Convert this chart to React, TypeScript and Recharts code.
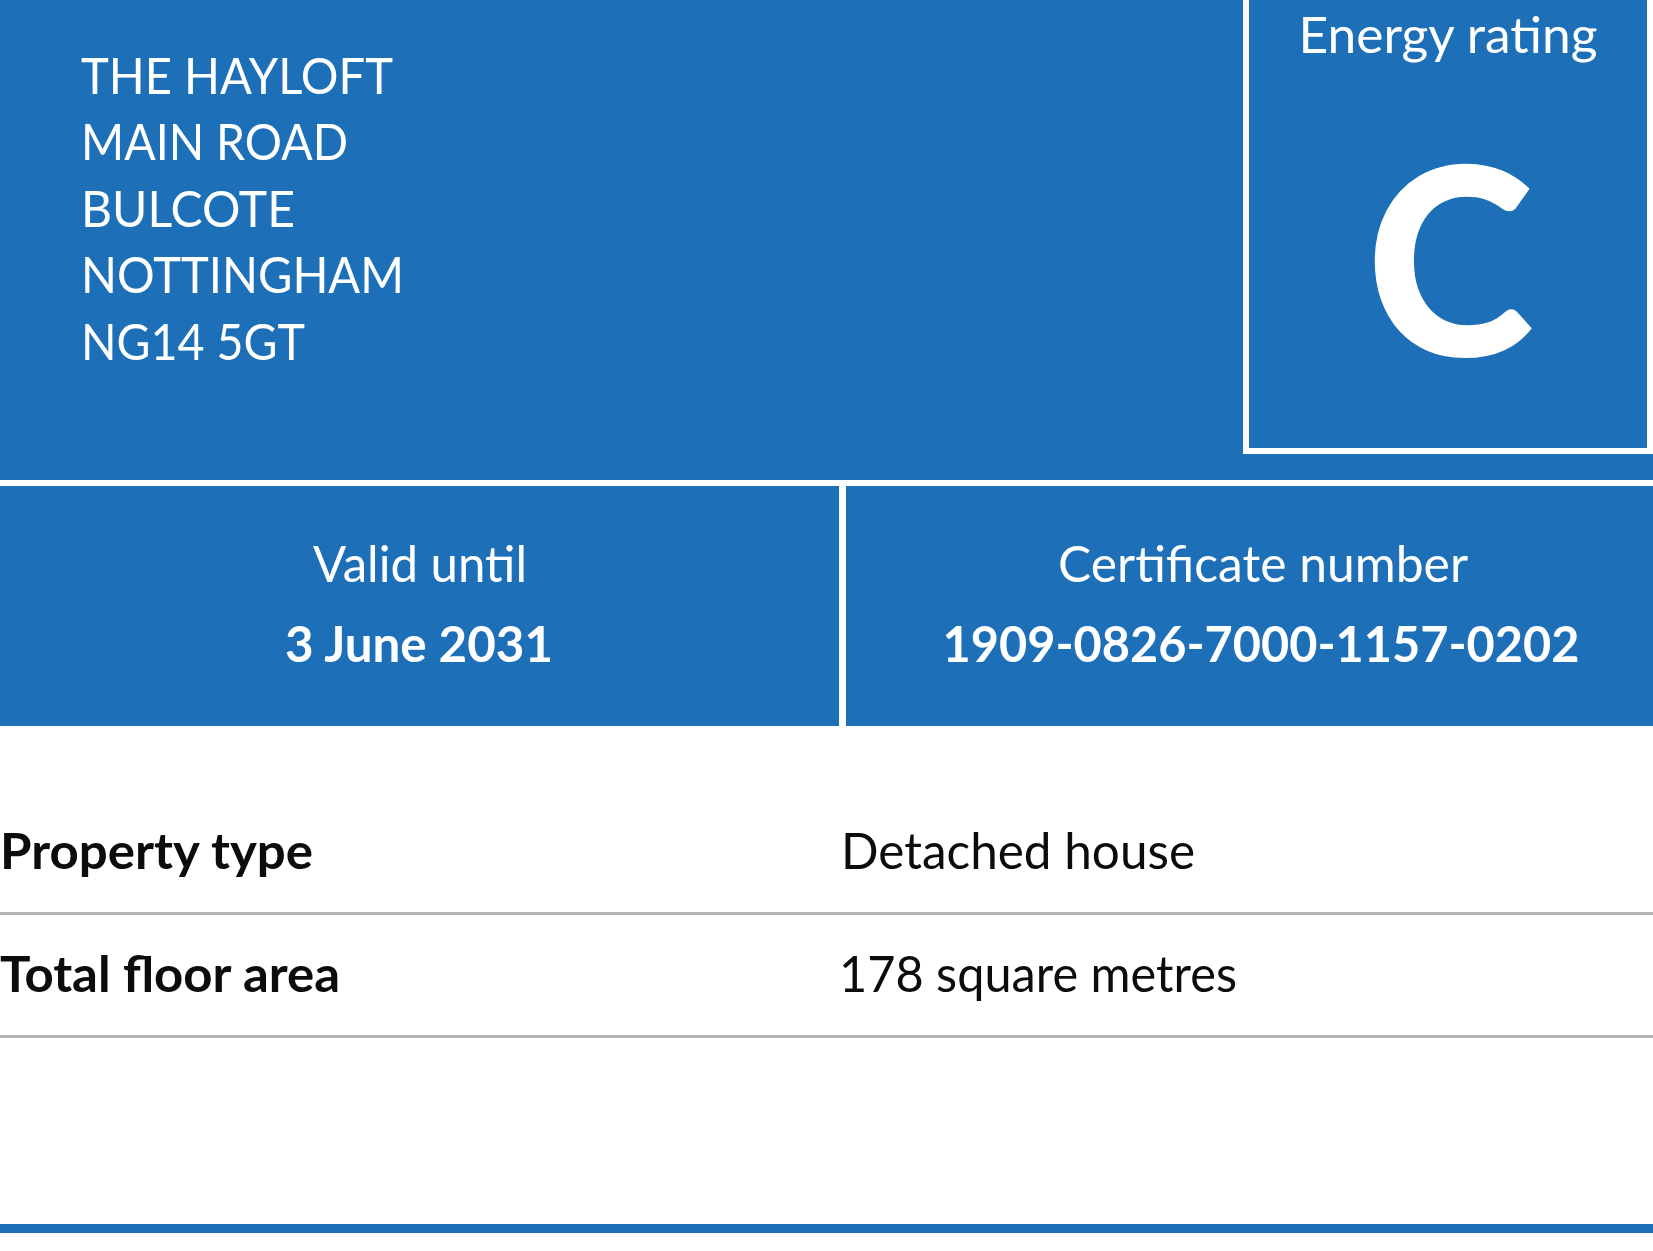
import React from "react";
import {
  ComposedChart,
  Customized,
  Rectangle,
  ReferenceLine,
  XAxis,
  YAxis,
} from "recharts";

const W = 1653;
const H = 1251;
const BLUE = "#1d70b8";
const INK = "#0b0c0c";
const RULE = "#b1b4b6";
const FONT = "Lato, 'Noto Sans', sans-serif";

// card content
const addressLines = ["THE HAYLOFT", "MAIN ROAD", "BULCOTE", "NOTTINGHAM", "NG14 5GT"];
const ratingTitle = "Energy rating";
const ratingBand = "C";
const validLabel = "Valid until";
const validDate = "3 June 2031";
const certLabel = "Certificate number";
const certNumber = "1909-0826-7000-1157-0202";
const rowLabels = ["Property type", "Total floor area"];
const rowValues = ["Detached house", "178 square metres"];

// layout (pixel positions, kept apart from the content)
const addrX = 81;
const addrBase = [94, 160, 227, 293, 360];
const addrWidth = [312, 267, 214, 323, 224];
const rowBase = [869, 992];
const labelWidth = [313, 340];
const valueX = [841, 839];
const valueWidth = [354, 398];

// [x, y, width, height, fill]
const blocks: [number, number, number, number, string][] = [
  [0, 0, W, 480, BLUE], // header
  [1243, 0, W - 1243, 454, "#fff"], // rating box border
  [1249, 0, 398, 448, BLUE], // rating box
  [0, 486, 839, 240, BLUE], // valid until
  [846, 486, W - 846, 240, BLUE], // certificate number
  [0, 1224, W, 9, BLUE], // footer bar
];

type T = {
  x: number;
  y: number;
  w: number;
  text: string;
  size?: number;
  weight?: number;
  fill?: string;
  anchor?: "start" | "middle";
};

function Txt({ x, y, w, text, size = 50, weight = 400, fill = "#fff", anchor = "start" }: T) {
  return (
    <text
      x={x}
      y={y}
      fontFamily={FONT}
      fontSize={size}
      fontWeight={weight}
      fill={fill}
      textAnchor={anchor}
      textLength={w}
      lengthAdjust="spacingAndGlyphs"
    >
      {text}
    </text>
  );
}

function Card() {
  return (
    <g>
      {blocks.map(([x, y, w, h, fill], i) => (
        <Rectangle key={i} x={x} y={y} width={w} height={h} fill={fill} stroke="none" />
      ))}
      {addressLines.map((line, i) => (
        <Txt key={line} x={addrX} y={addrBase[i]} w={addrWidth[i]} text={line} size={51} />
      ))}
      <Txt x={1448} y={53} w={299} text={ratingTitle} anchor="middle" />
      <Txt x={1450} y={356} w={168} text={ratingBand} size={262} weight={900} anchor="middle" />
      <Txt x={420} y={582} w={214} text={validLabel} anchor="middle" />
      <Txt x={419} y={662} w={268} text={validDate} weight={700} anchor="middle" />
      <Txt x={1263} y={582} w={410} text={certLabel} anchor="middle" />
      <Txt x={1261} y={662} w={637} text={certNumber} weight={700} anchor="middle" />
      {rowLabels.map((l, i) => (
        <Txt key={l} x={0} y={rowBase[i]} w={labelWidth[i]} text={l} weight={700} fill={INK} />
      ))}
      {rowValues.map((v, i) => (
        <Txt key={v} x={valueX[i]} y={rowBase[i]} w={valueWidth[i]} text={v} fill={INK} />
      ))}
    </g>
  );
}

export default function App() {
  return (
    <div style={{ width: W, height: H, overflow: "hidden" }}>
      <style>{`body{margin:0}svg{display:block}`}</style>
      <ComposedChart width={W} height={H} data={[]} margin={{ top: 0, right: 0, bottom: 0, left: 0 }}>
        <XAxis type="number" dataKey="x" domain={[0, W]} allowDataOverflow hide />
        <YAxis type="number" dataKey="y" domain={[0, H]} allowDataOverflow reversed hide />
        <Customized component={Card} />
        {/* row rules */}
        <ReferenceLine y={913.5} stroke={RULE} strokeWidth={3} ifOverflow="visible" />
        <ReferenceLine y={1036.5} stroke={RULE} strokeWidth={3} ifOverflow="visible" />
      </ComposedChart>
    </div>
  );
}
